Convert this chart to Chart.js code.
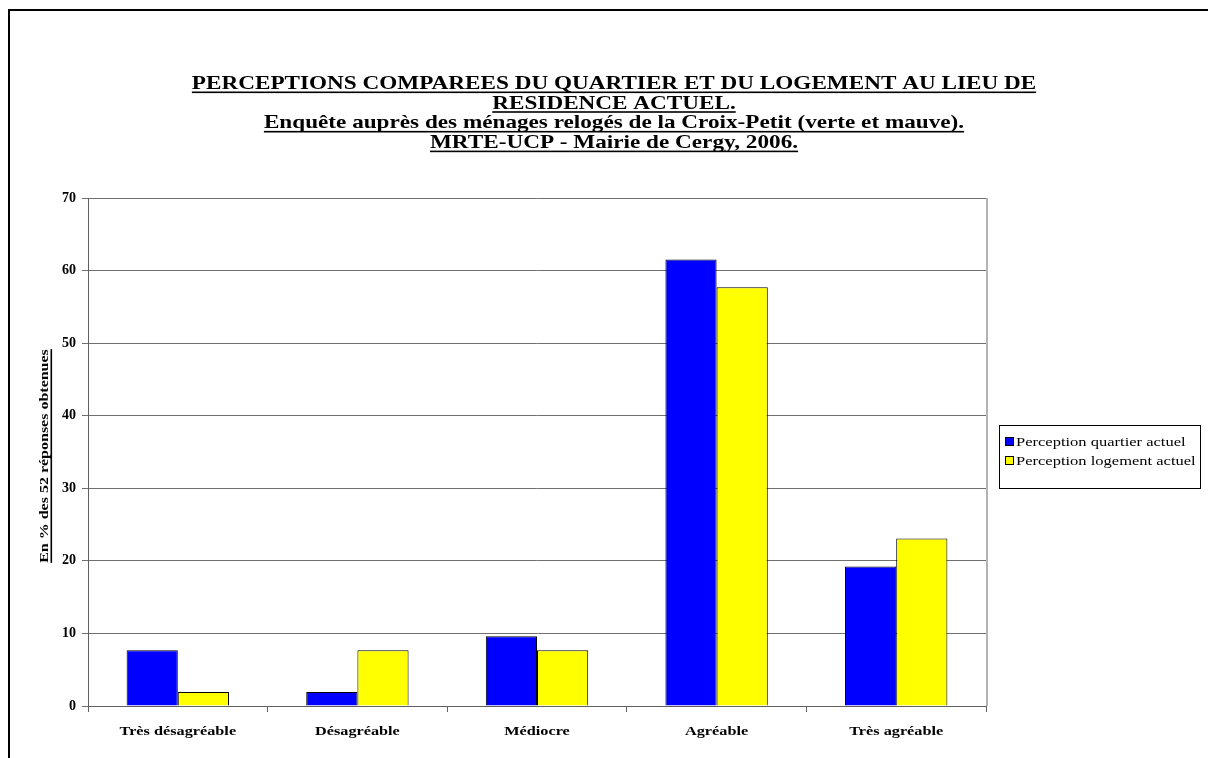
<!DOCTYPE html>
<html>
<head>
<meta charset="utf-8">
<script src="https://cdn.jsdelivr.net/npm/chart.js@4"></script>
<style>
  html, body { margin: 0; padding: 0; background: #fff; }
  #wrap { width: 1208px; height: 758px; }
</style>
</head>
<body>
<div id="wrap"><canvas id="graphique"></canvas></div>
<script>
// ---------- données ----------
const categories = ["Très désagréable", "Désagréable", "Médiocre", "Agréable", "Très agréable"];
const quartierActuel = [7.69, 1.92, 9.62, 61.54, 19.23];
const logementActuel = [1.92, 7.69, 7.69, 57.69, 23.08];
const seriesNames = ["Perception quartier actuel", "Perception logement actuel"];
const titreLignes = [
  "PERCEPTIONS COMPAREES DU QUARTIER ET DU LOGEMENT AU LIEU DE",
  "RESIDENCE ACTUEL.",
  "Enquête auprès des ménages relogés de la Croix-Petit (verte et mauve).",
  "MRTE-UCP - Mairie de Cergy, 2006."
];
const titreAxeY = "En % des 52 réponses obtenues";

const SERIF = '"Liberation Serif", "Times New Roman", serif';

// texte étiré horizontalement (le graphique d'origine est élargi), souligné ou non
function texte(ctx, text, x, y, align, sx, souligne) {
  ctx.save();
  ctx.translate(x, y);
  ctx.scale(sx, 1);
  ctx.textAlign = align;
  ctx.textBaseline = "alphabetic";
  ctx.fillText(text, 0, 0);
  if (souligne) {
    const w = ctx.measureText(text).width;
    const x0 = align === "center" ? -w / 2 : (align === "left" ? 0 : -w);
    ctx.fillRect(x0, 2.5, w, 1.6);
  }
  ctx.restore();
}

const decorations = {
  id: "decorations",
  afterDraw(chart) {
    const ctx = chart.ctx;
    const area = chart.chartArea;
    const xs = chart.scales.x;
    ctx.save();
    // cadre extérieur
    ctx.strokeStyle = "#000";
    ctx.lineWidth = 2;
    ctx.beginPath();
    ctx.moveTo(9, 770);
    ctx.lineTo(9, 10);
    ctx.lineTo(1220, 10);
    ctx.stroke();

    // bord droit de la zone de traçage
    ctx.strokeStyle = "#b4b4b4";
    ctx.lineWidth = 2;
    ctx.beginPath();
    ctx.moveTo(area.right + 1, area.top);
    ctx.lineTo(area.right + 1, area.bottom);
    ctx.stroke();

    // titre
    ctx.fillStyle = "#000";
    ctx.font = "bold 19px " + SERIF;
    titreLignes.forEach((l, i) => texte(ctx, l, 614, 89 + i * 19.7, "center", 1.22, true));

    // étiquettes des catégories
    ctx.font = "bold 13px " + SERIF;
    chart.data.labels.forEach((lab, i) => {
      texte(ctx, lab, xs.getPixelForTick(i), 735, "center", 1.25, false);
    });

    // titre axe Y
    ctx.save();
    ctx.translate(48, (area.top + area.bottom) / 2 + 4);
    ctx.rotate(-Math.PI / 2);
    ctx.font = "bold 13px " + SERIF;
    texte(ctx, titreAxeY, 0, 0, "center", 1.23, true);
    ctx.restore();

    // légende
    ctx.lineWidth = 1;
    ctx.strokeStyle = "#000";
    ctx.strokeRect(999.5, 425.5, 201, 63);
    ctx.font = "13px " + SERIF;
    chart.data.datasets.forEach((ds, i) => {
      const y = 441 + i * 19;
      ctx.fillStyle = ds.backgroundColor;
      ctx.fillRect(1005, y - 4, 9, 9);
      ctx.strokeRect(1005.5, y - 3.5, 8, 8);
      ctx.fillStyle = "#000";
      texte(ctx, ds.label, 1016, y + 5, "left", 1.27, false);
    });
    ctx.restore();
  }
};

const ctx1 = document.getElementById("graphique").getContext("2d");
new Chart(ctx1, {
  type: "bar",
  data: {
    labels: categories,
    datasets: [
      {
        label: seriesNames[0],
        data: quartierActuel,
        backgroundColor: "#0000ff",
        borderColor: "#000",
        borderWidth: 1
      },
      {
        label: seriesNames[1],
        data: logementActuel,
        backgroundColor: "#ffff00",
        borderColor: "#000",
        borderWidth: 1
      }
    ]
  },
  options: {
    responsive: true,
    maintainAspectRatio: false,
    animation: false,
    layout: { padding: { top: 198, right: 222, left: 0, bottom: 0 } },
    datasets: { bar: { categoryPercentage: 0.57, barPercentage: 1.0 } },
    plugins: {
      legend: { display: false },
      title: { display: false },
      tooltip: { enabled: false }
    },
    scales: {
      y: {
        min: 0,
        max: 70,
        ticks: {
          stepSize: 10,
          color: "#000",
          padding: 6,
          font: { family: SERIF, size: 14, weight: "bold" }
        },
        grid: { color: "#707070", lineWidth: 1, tickLength: 6 },
        border: { color: "#606060", width: 1 },
        afterFit(scale) { scale.width = 88; }
      },
      x: {
        ticks: { display: false },
        grid: { drawOnChartArea: false, drawTicks: true, tickLength: 6, color: "#606060", offset: true },
        border: { color: "#606060", width: 1 },
        afterFit(scale) { scale.height = 52; }
      }
    }
  },
  plugins: [decorations]
});
</script>
</body>
</html>
